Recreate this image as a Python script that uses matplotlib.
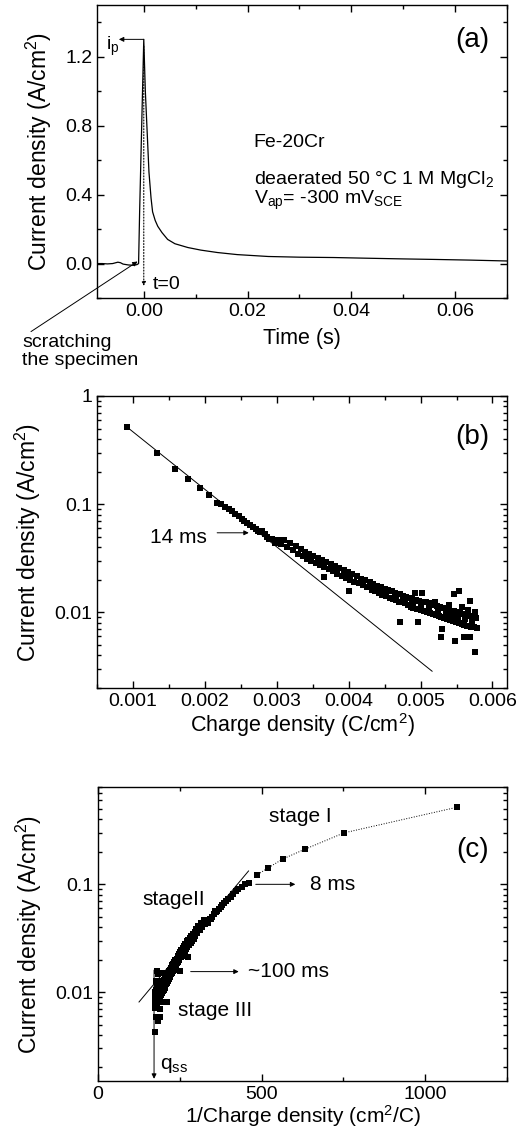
import numpy as np
import matplotlib
matplotlib.use('Agg')
import matplotlib.pyplot as plt
from matplotlib.ticker import AutoMinorLocator, MultipleLocator, FuncFormatter, NullFormatter, LogLocator

plt.rcParams['font.family'] = ['Liberation Sans', 'DejaVu Sans']
plt.rcParams['mathtext.default'] = 'regular'

# (a) current transient
t_a = [-0.009, -0.008, -0.007, -0.006, -0.005, -0.0045, -0.004, -0.003, -0.002, -0.0013,
       -0.0010, -0.0008, -0.0004, 0.0, 0.0003, 0.0010, 0.0014, 0.0017, 0.0022, 0.0027,
       0.0035, 0.0046, 0.006, 0.0085, 0.011, 0.0142, 0.018, 0.024, 0.030, 0.0366,
       0.043, 0.050, 0.056, 0.063, 0.070]
i_a = [0.0, 0.0, -0.002, 0.0, 0.008, 0.005, -0.003, -0.008, -0.010, -0.006,
       0.0, 0.30, 0.80, 1.30, 1.00, 0.53, 0.38, 0.30, 0.25, 0.216,
       0.18, 0.14, 0.115, 0.093, 0.078, 0.064, 0.052, 0.041, 0.037, 0.035,
       0.031, 0.027, 0.024, 0.020, 0.015]

# (b)/(c) current density vs charge density
q_b = [0.00091, 0.00133, 0.00158, 0.00177, 0.00193, 0.00206, 0.00217, 0.00223, 0.00228, 0.00233,
       0.00238, 0.00242, 0.00247, 0.00251, 0.00255, 0.00259, 0.00263, 0.00267, 0.00271, 0.00274,
       0.00277, 0.00280, 0.00283, 0.00286, 0.00289,
       0.00293, 0.00298, 0.00302, 0.00306, 0.00310, 0.00314, 0.00318, 0.00322, 0.00326, 0.00330,
       0.00333, 0.00336, 0.00339, 0.00342, 0.00345, 0.00348, 0.00351, 0.00354, 0.00357, 0.00360,
       0.00363, 0.00365, 0.00366, 0.00369, 0.00372, 0.00375, 0.00378, 0.00381, 0.00384, 0.00387,
       0.00390, 0.00393, 0.00396, 0.00399, 0.00400, 0.00402, 0.00405, 0.00408, 0.00411, 0.00414,
       0.00417, 0.00420, 0.00423, 0.00426, 0.00429, 0.00432, 0.00434, 0.00437, 0.00440, 0.00442,
       0.00445, 0.00447, 0.00450, 0.00452, 0.00455, 0.00457, 0.00460, 0.00462, 0.00464, 0.00466,
       0.00468, 0.00470, 0.00472, 0.00472, 0.00474, 0.00476, 0.00478, 0.00480,
       0.00482, 0.00484, 0.00486, 0.00488, 0.00490, 0.00492, 0.00493, 0.00495, 0.00497, 0.00498,
       0.00500, 0.00502, 0.00503, 0.00505, 0.00507, 0.00509, 0.00511, 0.00513, 0.00515, 0.00517,
       0.00519, 0.00521, 0.00523, 0.00525, 0.00527, 0.00528, 0.00529, 0.00530, 0.00531, 0.00533,
       0.00535, 0.00537, 0.00539, 0.00541, 0.00543, 0.00545, 0.00546, 0.00547, 0.00548, 0.00549,
       0.00551, 0.00553, 0.00553, 0.00555, 0.00557, 0.00559, 0.00560, 0.00561, 0.00563, 0.00565,
       0.00567, 0.00569, 0.00569, 0.00570, 0.00572, 0.00574, 0.00575, 0.00576, 0.00577, 0.00578,
       0.00489, 0.00501, 0.00512, 0.00524, 0.00536, 0.00544, 0.00552, 0.00562, 0.00571, 0.00566,
       0.00558, 0.00540, 0.00520]
i_b = [0.520, 0.300, 0.212, 0.172, 0.141, 0.122, 0.103, 0.100, 0.094, 0.090,
       0.086, 0.081, 0.077, 0.073, 0.070, 0.067, 0.064, 0.061, 0.059, 0.057,
       0.055, 0.056, 0.053, 0.050, 0.048,
       0.0475, 0.0440, 0.0470, 0.0430, 0.0465, 0.0405, 0.0440, 0.0375, 0.0410, 0.0350,
       0.0385, 0.0330, 0.0365, 0.0310, 0.0345, 0.0300, 0.0335, 0.0285, 0.0315, 0.0275,
       0.0305, 0.0212, 0.0262, 0.0295, 0.0250, 0.0280, 0.0240, 0.0268, 0.0228, 0.0258,
       0.0218, 0.0245, 0.0210, 0.0235, 0.0158, 0.0200, 0.0225, 0.0192, 0.0215, 0.0185,
       0.0205, 0.0178, 0.0198, 0.0170, 0.0190, 0.0162, 0.0183, 0.0157, 0.0177, 0.0150,
       0.0171, 0.0146, 0.0166, 0.0141, 0.0160, 0.0137, 0.0156, 0.0133, 0.0152, 0.0130,
       0.0148, 0.0126, 0.0147, 0.0081, 0.0124, 0.0143, 0.0121, 0.0139,
       0.0118, 0.0137, 0.0113, 0.0133, 0.0110, 0.0152, 0.0130, 0.0108, 0.0081, 0.0128,
       0.0105, 0.0150, 0.0126, 0.0103, 0.0124, 0.0101, 0.0121, 0.0099, 0.0119, 0.0097,
       0.0117, 0.0095, 0.0115, 0.0093, 0.0112, 0.0059, 0.0091, 0.0070, 0.0110, 0.0089,
       0.0108, 0.0087, 0.0106, 0.0085, 0.0104, 0.0083, 0.0147, 0.0102, 0.0054, 0.0081,
       0.0100, 0.0158, 0.0079, 0.0098, 0.0078, 0.0096, 0.0059, 0.0076, 0.0094, 0.0075,
       0.0092, 0.0128, 0.0059, 0.0074, 0.0090, 0.0073, 0.0100, 0.0043, 0.0088, 0.0072,
       0.0124, 0.0116, 0.0110, 0.0104, 0.0098, 0.0094, 0.0090, 0.0086, 0.0082, 0.0105,
       0.0112, 0.0118, 0.0126]

# straight line fit in (b), tangent of stage II in (c)
fit_q = [0.00091, 0.00516]
fit_i = [0.52, 0.00286]
tan_x = [125, 460]
tan_i = [0.0081, 0.133]

q_b = np.array(q_b)
i_b = np.array(i_b)
inv_q = 1.0 / q_b

fig = plt.figure(figsize=(5.22, 11.32), dpi=100)
ax1 = fig.add_axes([0.186, 0.7367, 0.785, 0.259])
ax2 = fig.add_axes([0.186, 0.3922, 0.785, 0.258])
ax3 = fig.add_axes([0.188, 0.0451, 0.783, 0.2597])

for ax in (ax1, ax2, ax3):
    ax.tick_params(which='both', direction='in', top=True, right=True, labelsize=14, width=1)
    ax.tick_params(which='major', length=5)
    ax.tick_params(which='minor', length=3)
    for s in ax.spines.values():
        s.set_linewidth(1)

# ---- (a)
ax1.plot(t_a, i_a, 'k-', lw=0.9)
ax1.set_xlim(-0.009, 0.07)
ax1.set_ylim(-0.2, 1.5)
ax1.xaxis.set_major_locator(MultipleLocator(0.02))
ax1.xaxis.set_minor_locator(AutoMinorLocator(2))
ax1.yaxis.set_major_locator(MultipleLocator(0.4))
ax1.yaxis.set_minor_locator(AutoMinorLocator(2))
ax1.xaxis.set_major_formatter(FuncFormatter(lambda v, p: '%.2f' % v))
ax1.yaxis.set_major_formatter(FuncFormatter(lambda v, p: '%.1f' % v))
ax1.set_xlabel('Time (s)', fontsize=15.5, labelpad=6)
ax1.set_ylabel('Current density (A/cm$^2$)', fontsize=16.5, labelpad=8)
ax1.text(0.916, 0.88, '(a)', transform=ax1.transAxes, fontsize=20, ha='center', va='center')
ax1.text(0.0212, 0.70, 'Fe-20Cr', fontsize=14, va='center')
ax1.text(0.0212, 0.49, 'deaerated 50 °C 1 M MgCl$_2$', fontsize=14, va='center')
ax1.text(0.0212, 0.365, 'V$_{ap}$= -300 mV$_{SCE}$', fontsize=14, va='center')
ax1.annotate('', xy=(-0.0048, 1.30), xytext=(0.0, 1.30),
             arrowprops=dict(arrowstyle='-|>', lw=0.7, color='k', mutation_scale=7, shrinkA=0, shrinkB=0))
ax1.text(-0.0072, 1.26, 'i$_p$', fontsize=14, va='center')
ax1.annotate('', xy=(0.0, -0.13), xytext=(0.0, 1.26),
             arrowprops=dict(arrowstyle='-|>', lw=0.8, ls=':', color='k', mutation_scale=6, shrinkA=0, shrinkB=0))
ax1.text(0.0017, -0.12, 't=0', fontsize=14, va='center')
ax1.annotate('scratching\nthe specimen', xy=(-0.0012, 0.012), xytext=(-0.183, -0.183),
             textcoords='axes fraction', fontsize=14, ha='left', va='center', linespacing=1.05,
             arrowprops=dict(arrowstyle='-|>', lw=0.7, color='k', mutation_scale=7,
                             shrinkA=0, shrinkB=0, relpos=(0.04, 1.0)))

# ---- (b)
ax2.plot(fit_q, fit_i, 'k-', lw=0.7)
ax2.plot(q_b, i_b, 'ks', ms=4.2, mew=0)
ax2.set_yscale('log')
ax2.set_xlim(0.0005, 0.0062)
ax2.set_ylim(0.002, 1)
ax2.xaxis.set_major_locator(MultipleLocator(0.001))
ax2.xaxis.set_minor_locator(AutoMinorLocator(2))
ax2.xaxis.set_major_formatter(FuncFormatter(lambda v, p: '%.3f' % v))
ax2.yaxis.set_major_locator(LogLocator(base=10))
ax2.yaxis.set_minor_locator(LogLocator(base=10, subs=np.arange(2, 10)))
ax2.yaxis.set_major_formatter(FuncFormatter(lambda v, p: '%g' % v))
ax2.yaxis.set_minor_formatter(NullFormatter())
ax2.set_xlabel('Charge density (C/cm$^2$)', fontsize=15.5, labelpad=1)
ax2.set_ylabel('Current density (A/cm$^2$)', fontsize=16.5, labelpad=8)
ax2.text(0.915, 0.86, '(b)', transform=ax2.transAxes, fontsize=20, ha='center', va='center')
ax2.text(0.00124, 0.049, '14 ms', fontsize=15, va='center')
ax2.annotate('', xy=(0.00261, 0.0544), xytext=(0.00217, 0.0544),
             arrowprops=dict(arrowstyle='-|>', lw=0.7, color='k', mutation_scale=7, shrinkA=0, shrinkB=0))

# ---- (c)
stage1 = inv_q >= 470
ax3.plot(inv_q[stage1], i_b[stage1], 'k:', lw=0.7)
ax3.plot(tan_x, tan_i, 'k-', lw=0.7)
ax3.plot(inv_q, i_b, 'ks', ms=4.2, mew=0)
ax3.set_yscale('log')
ax3.set_xlim(0, 1250)
ax3.set_ylim(0.0015, 0.8)
ax3.xaxis.set_major_locator(MultipleLocator(500))
ax3.xaxis.set_minor_locator(AutoMinorLocator(2))
ax3.yaxis.set_major_locator(LogLocator(base=10))
ax3.yaxis.set_minor_locator(LogLocator(base=10, subs=np.arange(2, 10)))
ax3.yaxis.set_major_formatter(FuncFormatter(lambda v, p: '%g' % v))
ax3.yaxis.set_minor_formatter(NullFormatter())
ax3.set_xlabel('1/Charge density (cm$^2$/C)', fontsize=15, labelpad=0)
ax3.set_ylabel('Current density (A/cm$^2$)', fontsize=16.5, labelpad=8)
ax3.text(0.917, 0.786, '(c)', transform=ax3.transAxes, fontsize=20, ha='center', va='center')
ax3.text(619, 0.43, 'stage I', fontsize=15, ha='center', va='center')
ax3.text(232, 0.072, 'stageII', fontsize=15, ha='center', va='center')
ax3.text(359, 0.0068, 'stage III', fontsize=15, ha='center', va='center')
ax3.text(649, 0.1, '8 ms', fontsize=15, va='center')
ax3.annotate('', xy=(603, 0.1), xytext=(482, 0.1),
             arrowprops=dict(arrowstyle='-|>', lw=0.7, color='k', mutation_scale=7, shrinkA=0, shrinkB=0))
ax3.text(458, 0.0155, '~100 ms', fontsize=15, va='center')
ax3.annotate('', xy=(430, 0.0155), xytext=(283, 0.0155),
             arrowprops=dict(arrowstyle='-|>', lw=0.7, color='k', mutation_scale=7, shrinkA=0, shrinkB=0))
ax3.annotate('', xy=(171, 0.00157), xytext=(171, 0.016),
             arrowprops=dict(arrowstyle='-|>', lw=0.7, color='k', mutation_scale=7, shrinkA=0, shrinkB=0))
ax3.text(190, 0.0021, 'q$_{ss}$', fontsize=15, va='center')

fig.savefig('out.png', dpi=100)
